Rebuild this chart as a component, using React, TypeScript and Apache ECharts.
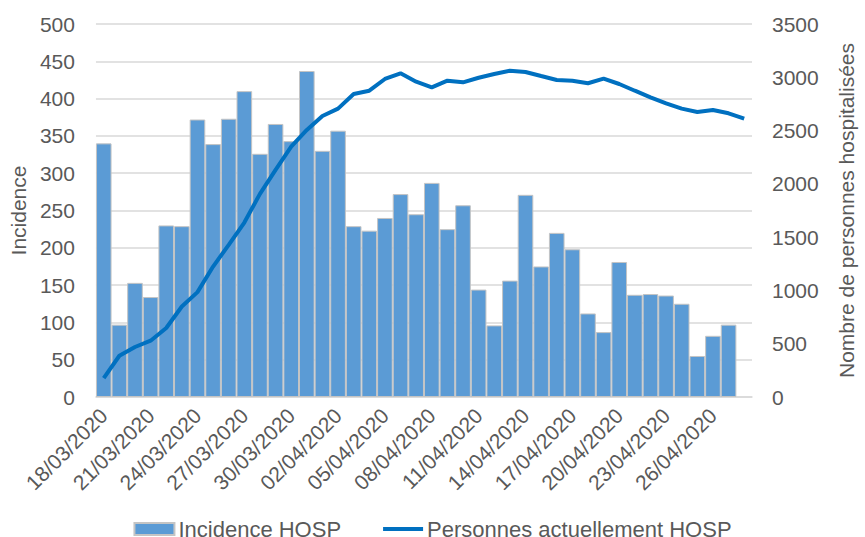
import React, { useEffect, useRef } from "react";
import * as echarts from "echarts";

const categories = [
  "18/03/2020", "19/03/2020", "20/03/2020", "21/03/2020", "22/03/2020", "23/03/2020", "24/03/2020",
  "25/03/2020", "26/03/2020", "27/03/2020", "28/03/2020", "29/03/2020", "30/03/2020", "31/03/2020",
  "01/04/2020", "02/04/2020", "03/04/2020", "04/04/2020", "05/04/2020", "06/04/2020", "07/04/2020",
  "08/04/2020", "09/04/2020", "10/04/2020", "11/04/2020", "12/04/2020", "13/04/2020", "14/04/2020",
  "15/04/2020", "16/04/2020", "17/04/2020", "18/04/2020", "19/04/2020", "20/04/2020", "21/04/2020",
  "22/04/2020", "23/04/2020", "24/04/2020", "25/04/2020", "26/04/2020", "27/04/2020", "28/04/2020",
];

const incidenceHosp = [
  340, 97, 153, 134, 230, 229, 372, 339, 373, 410,
  326, 366, 343, 437, 330, 357, 229, 223, 240, 272,
  245, 287, 225, 257, 144, 96, 156, 271, 175, 220,
  198, 112, 87, 181, 137, 138, 136, 125, 55, 82,
  97,
];

const personnesHosp = [
  178, 387, 469, 528, 647, 849, 984, 1224, 1428, 1637,
  1906, 2131, 2349, 2506, 2637, 2706, 2843, 2874, 2984, 3037,
  2959, 2906, 2968, 2953, 2996, 3031, 3062, 3050, 3012, 2975,
  2968, 2944, 2987, 2937, 2874, 2812, 2756, 2706, 2675, 2693,
  2662, 2612,
];

const leftTicks = { min: 0, max: 500, interval: 50 };
const rightTicks = { min: 0, max: 3500, interval: 500 };

const FONT = "'Liberation Sans', Arial, sans-serif";
const TXT = "#595959";
const LINE_ICON =
  "path://M0,0L0.01,0L0,0.01Z M40,12L39.99,12L40,11.99Z M0,4L40,4L40,8L0,8Z";

export default function App() {
  const ref = useRef<HTMLDivElement>(null);
  useEffect(() => {
    document.body.style.margin = "0";
    if (!ref.current) return;
    const chart = echarts.init(ref.current, null, { renderer: "svg" });
    chart.setOption({
      animation: false,
      textStyle: { fontFamily: FONT },
      grid: { left: 94, right: 108, top: 24, bottom: 140, containLabel: false },
      legend: {
        top: 513,
        left: "center",
        itemWidth: 40,
        itemHeight: 12,
        itemGap: 42,
        textStyle: { fontFamily: FONT, fontSize: 22, color: TXT, padding: [0, 0, 0, -1] },
        data: [
          { name: "Incidence HOSP", icon: "rect" },
          { name: "Personnes actuellement HOSP", icon: LINE_ICON },
        ],
      },
      xAxis: {
        type: "category",
        data: categories,
        boundaryGap: true,
        axisLine: { show: true, lineStyle: { color: "#d9d9d9", width: 1.5 } },
        axisTick: { show: false },
        axisLabel: {
          rotate: 45,
          interval: 2,
          margin: 15,
          fontFamily: FONT,
          fontSize: 21,
          color: TXT,
        },
      },
      yAxis: [
        {
          type: "value",
          ...leftTicks,
          name: "Incidence",
          nameLocation: "middle",
          nameGap: 64,
          nameTextStyle: { fontFamily: FONT, fontSize: 21, color: TXT },
          axisLine: { show: false },
          axisTick: { show: false },
          axisLabel: { margin: 21, fontFamily: FONT, fontSize: 21, color: TXT },
          splitLine: { show: true, lineStyle: { color: "#d9d9d9", width: 1.5 } },
        },
        {
          type: "value",
          ...rightTicks,
          position: "right",
          name: "Nombre de personnes hospitalisées",
          nameLocation: "middle",
          nameGap: 84,
          nameTextStyle: { fontFamily: FONT, fontSize: 21, color: TXT },
          axisLine: { show: false },
          axisTick: { show: false },
          axisLabel: {
            margin: 20,
            fontFamily: FONT,
            fontSize: 21,
            color: TXT,
            formatter: (v: number) => String(v),
          },
          splitLine: { show: false },
        },
      ],
      series: [
        {
          name: "Incidence HOSP",
          type: "bar",
          yAxisIndex: 0,
          data: incidenceHosp,
          barCategoryGap: "0%",
          itemStyle: { color: "#5b9bd5", borderColor: "#c4c4c4", borderWidth: 1 },
        },
        {
          name: "Personnes actuellement HOSP",
          type: "line",
          yAxisIndex: 1,
          data: personnesHosp,
          symbol: "none",
          showSymbol: false,
          lineStyle: { color: "#0070c0", width: 4 },
          itemStyle: { color: "#0070c0" },
        },
      ],
    });
    return () => chart.dispose();
  }, []);
  return <div ref={ref} style={{ width: 865, height: 537 }} />;
}
